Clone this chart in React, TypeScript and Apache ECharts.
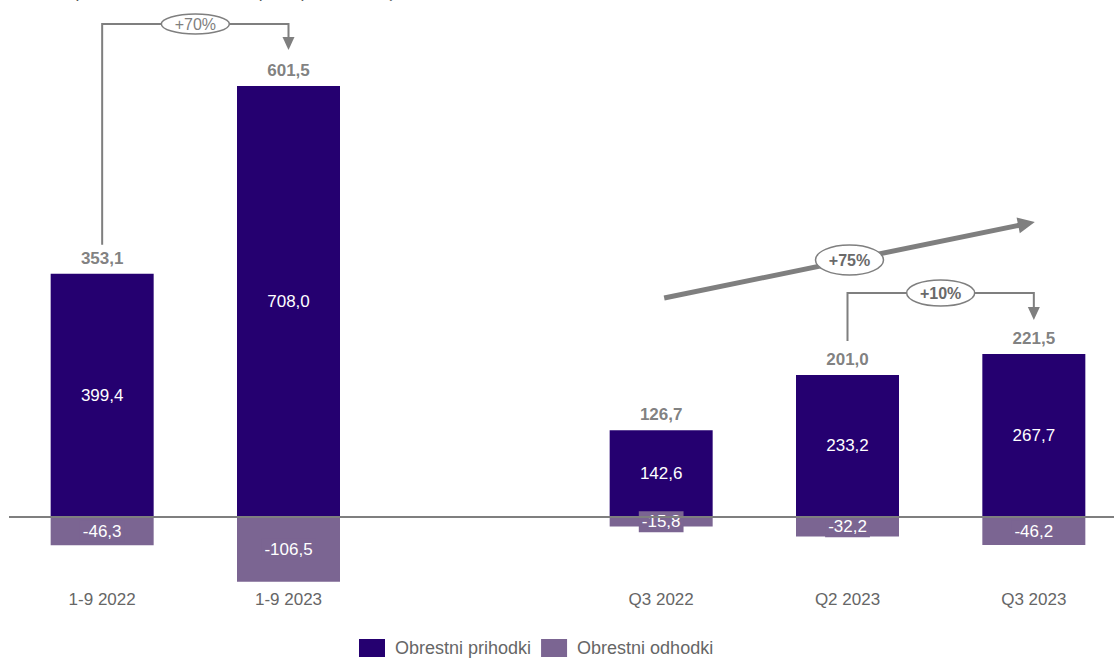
import React, { useEffect, useRef } from "react";
import * as echarts from "echarts";

const categories = ["1-9 2022", "1-9 2023", "", "Q3 2022", "Q2 2023", "Q3 2023"];
const prihodki: (number | string)[] = [399.4, 708.0, "-", 142.6, 233.2, 267.7];
const odhodki: (number | string)[] = [-46.3, -106.5, "-", -15.8, -32.2, -46.2];
const neto: (number | null)[] = [353.1, 601.5, null, 126.7, 201.0, 221.5];
const growthLabels = ["+70%", "+75%", "+10%"];
const title = "Obrestni prihodki in odhodki skupine (v mio EUR)";

const C_PRI = "#250070";
const C_ODH = "#7B6592";
const GREY = "#7f7f7f";
const TXT = "#666666";
const FONT = "'Liberation Sans', Arial, sans-serif";

const fmt = (v: number) => v.toFixed(1).replace(".", ",");

export default function App() {
  const ref = useRef<HTMLDivElement>(null);
  useEffect(() => {
    if (!ref.current) return;
    const chart = echarts.init(ref.current, undefined, { renderer: "svg" });
    chart.setOption({
      animation: false,
      textStyle: { fontFamily: FONT },
      grid: { left: 9, right: 3, top: 30, height: 560, containLabel: false },
      legend: {
        left: 354,
        top: 634,
        itemWidth: 26,
        itemHeight: 18,
        itemGap: 10,
        icon: "rect",
        data: ["Obrestni prihodki", "Obrestni odhodki"],
        formatter: (n: string) => " " + n,
        textStyle: { fontSize: 18, color: TXT, fontFamily: FONT },
      },
      xAxis: {
        type: "category",
        data: categories,
        axisLine: { show: false, onZero: false },
        axisTick: { show: false },
        axisLabel: { color: TXT, fontSize: 17, margin: 1, fontFamily: FONT },
      },
      yAxis: {
        type: "value",
        min: -120,
        max: 800,
        show: false,
        splitLine: { show: false },
      },
      series: [
        {
          name: "Obrestni prihodki",
          type: "bar",
          stack: "a",
          barWidth: 103,
          data: prihodki,
          itemStyle: { color: C_PRI },
          label: {
            show: true,
            position: "inside",
            color: "#ffffff",
            fontSize: 17,
            fontFamily: FONT,
            formatter: (p: any) => fmt(p.value),
          },
        },
        {
          name: "Obrestni odhodki",
          type: "bar",
          stack: "a",
          barWidth: 103,
          data: odhodki,
          itemStyle: { color: C_ODH },
          label: {
            show: true,
            position: "inside",
            color: "#ffffff",
            fontSize: 17,
            fontFamily: FONT,
            backgroundColor: C_ODH,
            padding: [2, 3],
            formatter: (p: any) => fmt(p.value),
          },
          markLine: {
            silent: true,
            symbol: ["none", "none"],
            label: { show: false },
            lineStyle: { color: GREY, width: 2, type: "solid" },
            data: [{ yAxis: 0 }],
          },
        },
        {
          name: "Neto",
          type: "scatter",
          symbolSize: 0,
          data: prihodki.map((v, i) => (neto[i] == null ? "-" : v)),
          label: {
            show: true,
            position: "top",
            distance: 7,
            color: "#606060",
            fontWeight: "bold",
            fontSize: 17,
            fontFamily: FONT,
            formatter: (p: any) => fmt(neto[p.dataIndex] as number),
          },
        },
      ],
    });

    const px = (i: number, v: number) => chart.convertToPixel({ gridIndex: 0 }, [i, v]) as number[];
    const c0 = px(0, 0)[0];
    const c1 = px(1, 0)[0];
    const c3 = px(3, 0)[0];
    const c4 = px(4, 0)[0];
    const c5 = px(5, 0)[0];
    const top0 = px(0, prihodki[0] as number)[1];
    const top1 = px(1, prihodki[1] as number)[1];
    const top4 = px(4, prihodki[4] as number)[1];
    const top5 = px(5, prihodki[5] as number)[1];

    const bubble = (cx: number, cy: number, rx: number, ry: number, text: string, bold: boolean) => [
      {
        type: "ellipse",
        shape: { cx, cy, rx, ry },
        style: { fill: "#ffffff", stroke: GREY, lineWidth: 1.5 },
        z: 20,
      },
      {
        type: "text",
        x: cx,
        y: cy,
        style: {
          text,
          fill: bold ? "#6a6a6a" : GREY,
          fontSize: 16,
          fontWeight: bold ? "bold" : "normal",
          fontFamily: FONT,
          align: "center",
          verticalAlign: "middle",
        },
        z: 21,
      },
    ];

    const yA = 24;
    const tipA = top1 - 36;
    const yB = 293;
    const tipB = top5 - 34;
    const sx = c3 + 3, sy = 298, ex = c5 + 1, ey = 222;
    const len = Math.hypot(ex - sx, ey - sy);
    const ux = (ex - sx) / len, uy = (ey - sy) / len;
    const hl = 17, hw = 8;
    const bx = ex - ux * hl, by = ey - uy * hl;

    chart.setOption({
      graphic: [
        {
          type: "text",
          x: 4,
          y: 0,
          style: {
            text: title,
            fill: "#595959",
            fontSize: 18,
            fontStyle: "italic",
            fontFamily: FONT,
            align: "left",
            verticalAlign: "bottom",
          },
        },
        {
          type: "polyline",
          shape: { points: [[c0, top0 - 29], [c0, yA], [c1, yA], [c1, tipA - 12]] },
          style: { stroke: GREY, lineWidth: 2, fill: "none" },
          z: 10,
        },
        {
          type: "polygon",
          shape: { points: [[c1 - 6, tipA - 13], [c1 + 6, tipA - 13], [c1, tipA]] },
          style: { fill: GREY },
          z: 10,
        },
        ...bubble((c0 + c1) / 2, yA, 34, 10, growthLabels[0], false),
        {
          type: "polyline",
          shape: { points: [[c4, top4 - 34], [c4, yB], [c5, yB], [c5, tipB - 12]] },
          style: { stroke: GREY, lineWidth: 2, fill: "none" },
          z: 10,
        },
        {
          type: "polygon",
          shape: { points: [[c5 - 6, tipB - 13], [c5 + 6, tipB - 13], [c5, tipB]] },
          style: { fill: GREY },
          z: 10,
        },
        ...bubble((c4 + c5) / 2, yB, 34, 13, growthLabels[2], true),
        {
          type: "line",
          shape: { x1: sx, y1: sy, x2: bx + ux * 2, y2: by + uy * 2 },
          style: { stroke: GREY, lineWidth: 5 },
          z: 10,
        },
        {
          type: "polygon",
          shape: {
            points: [
              [bx - uy * hw, by + ux * hw],
              [bx + uy * hw, by - ux * hw],
              [ex, ey],
            ],
          },
          style: { fill: GREY },
          z: 10,
        },
        ...bubble((sx + ex) / 2, (sy + ey) / 2, 34, 15, growthLabels[1], true),
      ],
    });

    return () => chart.dispose();
  }, []);
  return (
    <div
      style={{ position: "absolute", left: 0, top: 0, width: 1114, height: 659, overflow: "hidden" }}
    >
      <div ref={ref} style={{ width: 1130, height: 659 }} />
    </div>
  );
}
